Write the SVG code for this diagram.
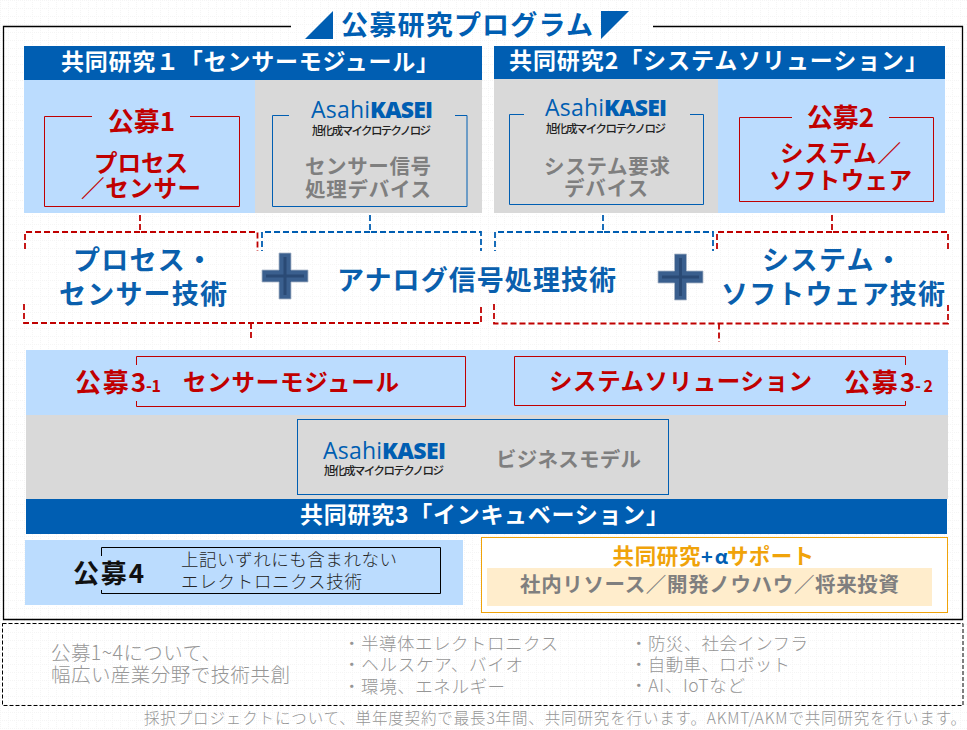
<svg xmlns="http://www.w3.org/2000/svg" width="967" height="730" viewBox="0 0 967 730">
<style>
text{font-family:"Noto Sans CJK JP","Noto Sans",sans-serif;font-weight:700}
.hd{fill:#fff;font-size:23px}
.tt{fill:#005eb2;font-size:27px}
.r1{fill:#c00000;font-size:26px}
.r2{fill:#c00000;font-size:23.500px}
.g{fill:#7f7f7f;font-size:20.500px}
.t{fill:#0a5fad;font-size:27px}
.lt{fill:#262626;font-size:17.500px;font-weight:300}
.ft{fill:#969696;font-size:17.500px;font-weight:300}
.a1{fill:#005eb2;font-family:"Open Sans",sans-serif;font-weight:400;font-size:23px}
.a2{fill:#005eb2;font-family:"Open Sans",sans-serif;font-weight:800;font-size:23px}
.a3{fill:#222;font-size:11.500px;font-weight:500}
.br{fill:none;stroke:#c00000;stroke-width:1}
.bb{fill:none;stroke:#005eb2;stroke-width:1}
.dr{fill:none;stroke:#c00000;stroke-width:1.800;stroke-dasharray:6 3}
.db{fill:none;stroke:#005eb2;stroke-width:1.800;stroke-dasharray:6 3}
.plus{fill:#3a5f8e;stroke:#a9b6c8;stroke-width:.8}
.pl2{fill:none;stroke:#2a4a75;stroke-width:3}
</style>
<defs><pattern id="dots" width="8" height="8" patternUnits="userSpaceOnUse"><rect width="8" height="8" fill="#fff"/><path d="M0 0h1v1h-1zM2 0h1v1h-1zM4 0h1v1h-1zM6 0h1v1h-1zM0 2h1v1h-1zM0 4h1v1h-1zM0 6h1v1h-1z" fill="#f5f5f5"/></pattern></defs>
<rect width="967" height="730" fill="url(#dots)"/>

<g id="frame"><path d="M291 26.500H3.500V619.500H962.500V26.500H653" fill="none" stroke="#000" stroke-width="1.300"/></g>
<g id="title">
<path d="M305 39L333 11V39Z M601 11H629L601 39Z" fill="#005eb2"/>
<text class="tt" x="341" y="35" textLength="252">公募研究プログラム</text>
</g>

<g id="panel1">
<rect x="24" y="46" width="458" height="34" fill="#005eb2"/>
<rect x="24" y="80" width="231" height="133" fill="#bbdcfe"/>
<rect x="255" y="80" width="227" height="133" fill="#d9d9d9"/>
<text class="hd" x="61" y="69.500" textLength="378">共同研究１「センサーモジュール」</text>
</g>
<g id="panel2">
<rect x="494" y="46" width="451" height="33" fill="#005eb2"/>
<rect x="494" y="79" width="224" height="134" fill="#d9d9d9"/>
<rect x="718" y="79" width="227" height="134" fill="#bbdcfe"/>
<text class="hd" x="509" y="68.500" textLength="419">共同研究2「システムソリューション」</text>
</g>

<g id="koubo1">
<path class="br" d="M92 116.500H44.500V206.500H239.500V116.500H190"/>
<text class="r1" x="141.500" y="131" text-anchor="middle">公募1</text>
<text class="r2" x="94" y="172" textLength="94">プロセス</text>
<text class="r2" x="81" y="197" textLength="120">／センサー</text>
</g>
<g id="akm1">
<path class="bb" d="M289 115.500H272.500V206.500H467V115.500H455"/>
<text class="a1" x="311" y="118" textLength="59">Asahi</text>
<text class="a2" x="370" y="118" textLength="63">KASEI</text>
<text class="a3" x="312" y="134.500" textLength="119">旭化成マイクロテクノロジ</text>
<text class="g" x="305" y="174" textLength="126">センサー信号</text>
<text class="g" x="305" y="197" textLength="126">処理デバイス</text>
</g>
<g id="akm2">
<path class="bb" d="M524 114.500H509.500V204.500H703.500V114.500H690"/>
<text class="a1" x="545" y="116" textLength="59">Asahi</text>
<text class="a2" x="604" y="116" textLength="63">KASEI</text>
<text class="a3" x="546" y="132.500" textLength="120">旭化成マイクロテクノロジ</text>
<text class="g" x="544" y="174" textLength="126">システム要求</text>
<text class="g" x="564" y="196" textLength="84">デバイス</text>
</g>
<g id="koubo2">
<path class="br" d="M792 117.500H739.500V201.500H933.500V117.500H889"/>
<text class="r1" x="840.500" y="127" text-anchor="middle">公募2</text>
<text class="r2" x="780" y="162" textLength="121">システム／</text>
<text class="r2" x="769" y="189" textLength="143">ソフトウェア</text>
</g>

<g id="connectors">
<path class="dr" d="M140 215V232H257.500V251 M140 232H25V251"/>
<path class="db" d="M370 215V232H481V251 M370 232H262V251"/>
<path class="dr" d="M24 304V323H481V304 M251 323V341"/>
<path class="db" d="M603 215V232H713V251 M603 232H495V251"/>
<path class="dr" d="M832 215V232H948V251 M832 232H717V251"/>
<path class="dr" d="M494 304V323.500H948V304 M719 323.500V342"/>
</g>

<g id="tech">
<text class="t" x="73" y="270" textLength="140">プロセス・</text>
<text class="t" x="59" y="304" textLength="168">センサー技術</text>
<text class="t" x="337" y="290" textLength="279">アナログ信号処理技術</text>
<text class="t" x="762" y="270" textLength="140">システム・</text>
<text class="t" x="721" y="304" textLength="224">ソフトウェア技術</text>
</g>
<g id="plus1">
<path class="plus" d="M279 253H291V270H308V282H291V299H279V282H262V270H279Z"/>
<path class="pl2" d="M285 257V295M266 276H304"/>
</g>
<g id="plus2">
<path class="plus" d="M674.500 254H686.500V271H703V283H686.500V300H674.500V283H658V271H674.500Z"/>
<path class="pl2" d="M680.500 258V296M662 277H699"/>
</g>

<g id="band3">
<rect x="26" y="350" width="922" height="65" fill="#bbdcfe"/>
<rect x="26" y="415" width="922" height="84" fill="#d9d9d9"/>
<rect x="26" y="499" width="921" height="35" fill="#005eb2"/>
<text class="hd" x="300" y="523" textLength="369">共同研究3「インキュベーション」</text>
</g>
<g id="koubo3-1">
<path class="br" d="M136.500 365V356.500H465.500V406.500H136.500V401"/>
<text class="r1" x="75" y="392" textLength="71">公募3</text>
<text x="146" y="392" fill="#c00000" font-size="16" textLength="15">-1</text>
<text class="r2" x="183" y="391" textLength="216">センサーモジュール</text>
</g>
<g id="koubo3-2">
<path class="br" d="M905.500 365V356.500H514.500V405.500H905.500V401"/>
<text class="r2" x="549" y="390" textLength="263">システムソリューション</text>
<text class="r1" x="844" y="392" textLength="71">公募3</text>
<text x="915" y="392" fill="#c00000" font-size="16" textLength="18">-2</text>
</g>
<g id="akm3">
<rect class="bb" x="297.500" y="419.500" width="371" height="75"/>
<text class="a1" x="323" y="459" textLength="59">Asahi</text>
<text class="a2" x="382" y="459" textLength="64">KASEI</text>
<text class="a3" x="324" y="475" textLength="120">旭化成マイクロテクノロジ</text>
<text class="g" x="496" y="466.500" textLength="145">ビジネスモデル</text>
</g>

<g id="koubo4">
<rect x="25" y="540" width="438" height="65" fill="#bbdcfe"/>
<path d="M101.500 556V547.500H440.500V593.500H101.500V590" fill="none" stroke="#000" stroke-width="1"/>
<text x="73" y="583" font-size="26" fill="#111" textLength="71">公募4</text>
<text class="lt" x="181" y="566" textLength="216">上記いずれにも含まれない</text>
<text class="lt" x="181" y="588" textLength="181">エレクトロニクス技術</text>
</g>
<g id="plus-support">
<rect x="481.500" y="537.500" width="466" height="75" fill="#fff" stroke="#f0a30a" stroke-width="1"/>
<rect x="487" y="568" width="445" height="38" fill="#ffedcc"/>
<text x="612.500" y="563.500" font-size="21.500" fill="#f0a30a" textLength="88">共同研究</text>
<text x="701" y="563.500" font-size="20" fill="#005eb2" textLength="27">+α</text>
<text x="727" y="563.500" font-size="21.500" fill="#f0a30a" textLength="87">サポート</text>
<text class="g" x="520" y="592" textLength="379">社内リソース／開発ノウハウ／将来投資</text>
</g>

<g id="notes">
<rect x="2.500" y="623.500" width="960.500" height="82" fill="none" stroke="#000" stroke-width="1" stroke-dasharray="4 2"/>
<text class="ft" style="font-size:19.500px" x="51" y="660" textLength="170">公募1~4について、</text>
<text class="ft" style="font-size:19.500px" x="51" y="682" textLength="239">幅広い産業分野で技術共創</text>
<text class="ft" x="343" y="650" textLength="215">・半導体エレクトロニクス</text>
<text class="ft" x="343" y="671" textLength="180">・ヘルスケア、バイオ</text>
<text class="ft" x="343" y="693" textLength="162">・環境、エネルギー</text>
<text class="ft" x="630" y="650" textLength="178">・防災、社会インフラ</text>
<text class="ft" x="630" y="671" textLength="160">・自動車、ロボット</text>
<text class="ft" x="630" y="692" textLength="115">・AI、IoTなど</text>
<text class="ft" style="font-size:15.500px" x="144" y="724" textLength="822">採択プロジェクトについて、単年度契約で最長3年間、共同研究を行います。AKMT/AKMで共同研究を行います。</text>
</g>
</svg>
